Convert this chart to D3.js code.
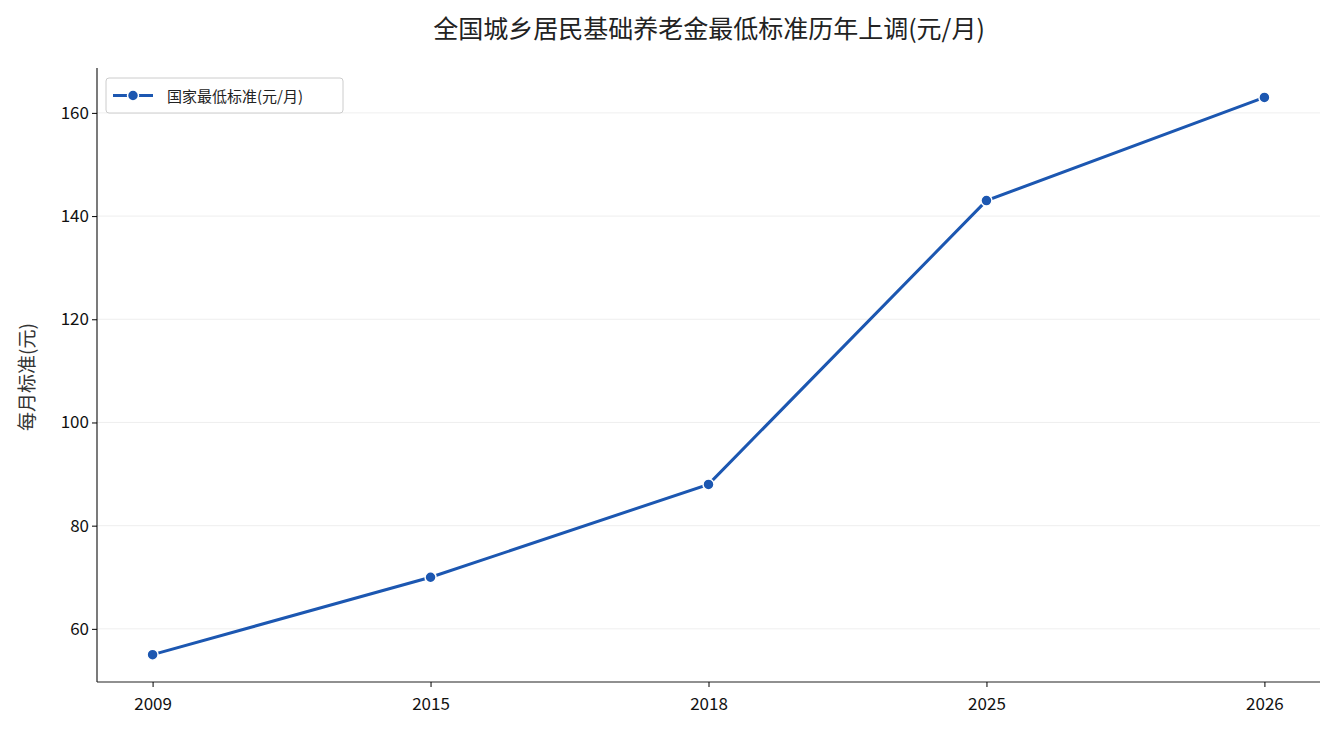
<!DOCTYPE html>
<html><head><meta charset="utf-8">
<script src="https://cdn.jsdelivr.net/npm/d3@7"></script>
<style>body{margin:0;background:#fff;font-family:"Noto Sans CJK SC","Noto Sans",sans-serif}</style>
</head><body>
<svg id="chart" width="1335" height="734"></svg>
<script>
// data
var years = ["2009", "2015", "2018", "2025", "2026"];
var standard = [55, 70, 88, 143, 163];
var yTicks = [60, 80, 100, 120, 140, 160];

var svg = d3.select("#chart");
var mLeft = 97, mRight = 1320, mTop = 68, mBottom = 682;
var color = "#1c57b1";

var x = d3.scaleLinear().domain([-0.2, 4.2]).range([mLeft, mRight]);
var y = d3.scaleLinear().domain([49.7, 168.7]).range([mBottom, mTop]);

// grid
svg.append("g").selectAll("line").data(yTicks).enter().append("line")
  .attr("x1", mLeft).attr("x2", mRight)
  .attr("y1", function(d){ return y(d); }).attr("y2", function(d){ return y(d); })
  .attr("stroke", "#ebebeb").attr("stroke-width", 0.8);

var xAxis = d3.axisBottom(x).tickValues(d3.range(years.length))
  .tickFormat(function(i){ return years[i]; }).tickSizeOuter(0).tickSize(5);
var gx = svg.append("g").attr("transform", "translate(0," + mBottom + ")").call(xAxis);
gx.select(".domain").attr("d", "M" + mLeft + ",0H" + mRight);

var gy = svg.append("g").attr("transform", "translate(" + mLeft + ",0)")
  .call(d3.axisLeft(y).tickValues(yTicks).tickSizeOuter(0).tickSize(5));
gy.select(".domain").attr("d", "M0," + mTop + "V" + mBottom);

svg.selectAll(".tick text").attr("font-size", 17).attr("fill", "#111")
  .attr("font-family", "'Noto Sans CJK SC'");
gx.selectAll(".tick text").attr("dy", "1.2em");
svg.selectAll(".domain").attr("stroke", "#222").attr("stroke-width", 1.2);

// line
var line = d3.line().x(function(d, i){ return x(i); }).y(function(d){ return y(d); });
svg.append("path").datum(standard).attr("d", line)
  .attr("fill", "none").attr("stroke", color).attr("stroke-width", 3);
svg.append("g").selectAll("circle").data(standard).enter().append("circle")
  .attr("cx", function(d, i){ return x(i); }).attr("cy", function(d){ return y(d); })
  .attr("r", 5.5).attr("fill", color).attr("stroke", "#fff").attr("stroke-width", 1.5);

// title, labels
svg.append("text").attr("x", 709).attr("y", 38).attr("text-anchor", "middle")
  .attr("font-size", 25).attr("fill", "#222").text("全国城乡居民基础养老金最低标准历年上调(元/月)");
svg.append("text").attr("transform", "translate(34,377) rotate(-90)").attr("text-anchor", "middle")
  .attr("font-size", 19).attr("fill", "#333").text("每月标准(元)");

// legend
var lg = svg.append("g").attr("transform", "translate(106,78)");
lg.append("rect").attr("width", 237).attr("height", 35).attr("rx", 3)
  .attr("fill", "#fff").attr("stroke", "#ccc");
lg.append("line").attr("x1", 7).attr("x2", 47).attr("y1", 17.5).attr("y2", 17.5)
  .attr("stroke", color).attr("stroke-width", 3);
lg.append("circle").attr("cx", 27).attr("cy", 17.5).attr("r", 5.5)
  .attr("fill", color).attr("stroke", "#fff").attr("stroke-width", 1.5);
lg.append("text").attr("x", 61).attr("y", 24).attr("font-size", 15).attr("fill", "#222")
  .text("国家最低标准(元/月)");
</script>
</body></html>
